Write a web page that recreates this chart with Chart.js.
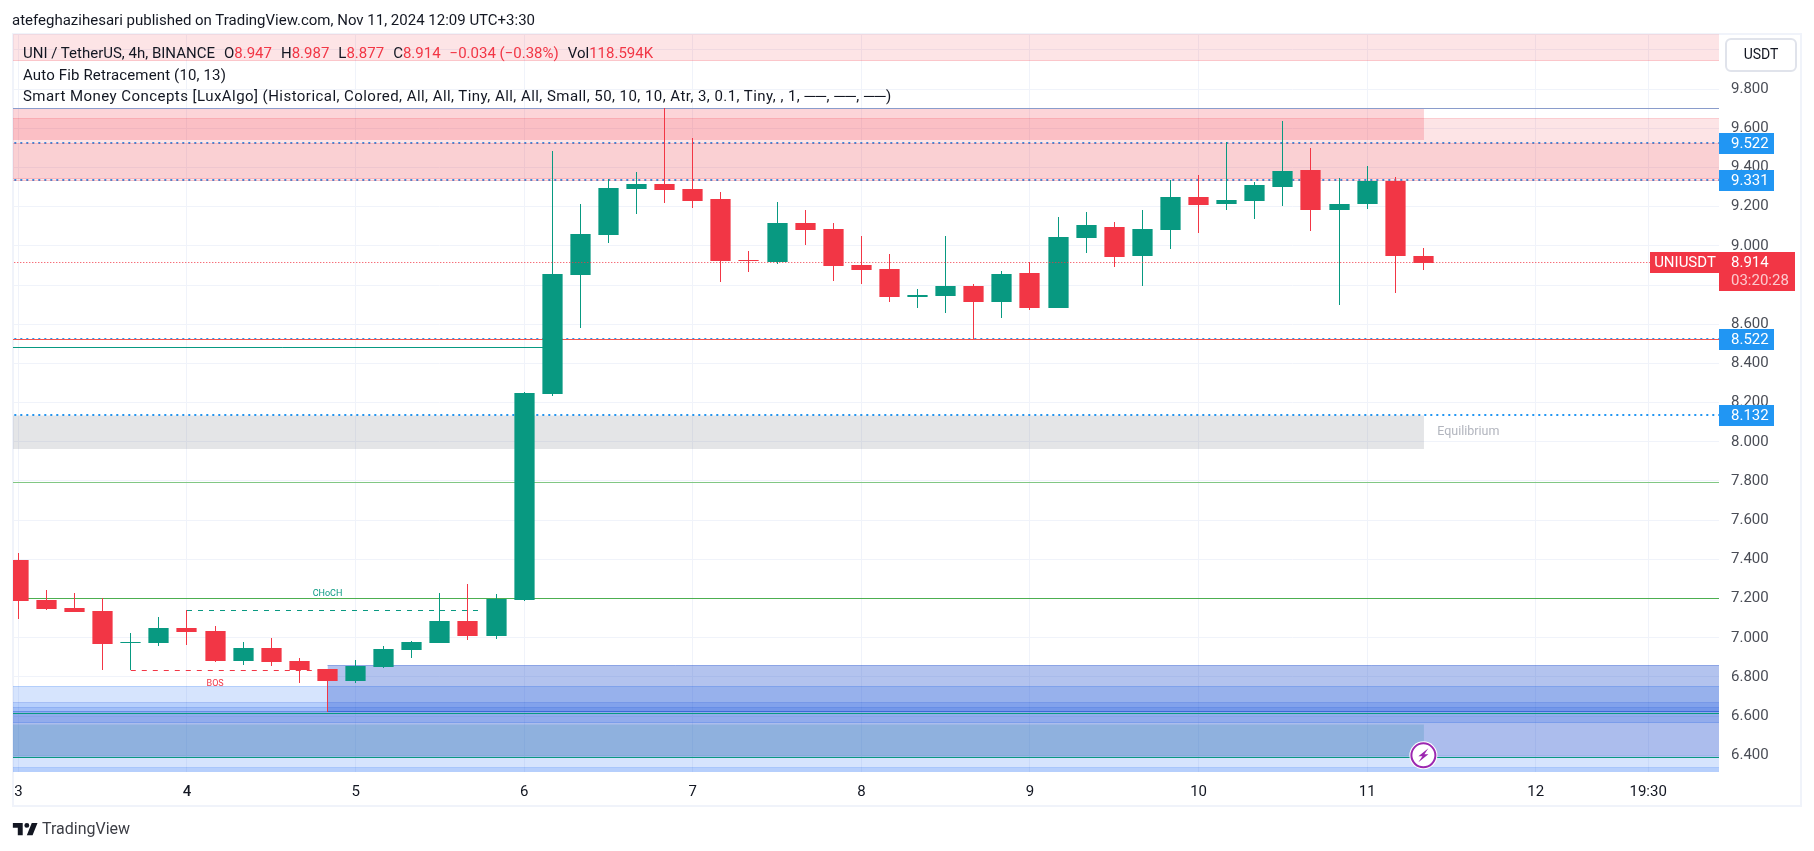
<!DOCTYPE html>
<html>
<head>
<meta charset="utf-8">
<title>UNI / TetherUS</title>
<script src="https://cdn.jsdelivr.net/npm/chart.js@4"></script>
<style>
    html, body { margin: 0; padding: 0; background: #fff; }
    body { width: 1814px; height: 851px; position: relative; overflow: hidden; font-family: Roboto, sans-serif; color: #131722; }
    canvas { position: absolute; left: 0; top: 0; }
    .txt { position: absolute; white-space: pre; font-size: 15px; line-height: 18px; }
    .red { color: #f23645; }
    .g { margin-left: 9px; }
    .logo { position: absolute; left: 11px; top: 818px; }
    .marca { position: absolute; left: 42px; top: 819px; font-size: 16px; line-height: 20px; color: #3c3e45; }
</style>
</head>
<body>
<canvas id="grafico" width="1814" height="851"></canvas>
<div class="txt" style="left:12px;top:11px">atefeghazihesari published on TradingView.com, Nov 11, 2024 12:09 UTC+3:30</div>
<div class="txt" style="left:23px;top:44px">UNI / TetherUS, 4h, BINANCE<span class="g">O</span><span class="red">8.947</span><span class="g">H</span><span class="red">8.987</span><span class="g">L</span><span class="red">8.877</span><span class="g">C</span><span class="red">8.914</span><span class="red g">−0.034 (−0.38%)</span><span class="g">Vol</span><span class="red">118.594K</span></div>
<div class="txt" style="left:23px;top:66px;letter-spacing:0.15px">Auto Fib Retracement (10, 13)</div>
<div class="txt" style="left:23px;top:87px;letter-spacing:0.45px">Smart Money Concepts [LuxAlgo] (Historical, Colored, All, All, Tiny, All, All, Small, 50, 10, 10, Atr, 3, 0.1, Tiny, , 1, ──, ──, ──)</div>
<svg class="logo" width="30" height="23" viewBox="0 0 36 28"><path fill="#131722" d="M14 6H2v6h6v9h6V6zm12 15h-7l6-15h7l-6 15zm-7-9a3 3 0 1 0 0-6 3 3 0 0 0 0 6z"/></svg>
<div class="marca">TradingView</div>
<script>
// Velas de 4h (preco)
const dataOpen = [7.397, 7.193, 7.152, 7.137, 6.975, 6.973, 7.050, 7.035, 6.882, 6.948, 6.882, 6.841, 6.780, 6.851, 6.938, 6.973, 7.086, 7.009, 7.193, 8.244,
    8.851, 9.055, 9.290, 9.315, 9.290, 9.239, 8.927, 8.917, 9.116, 9.086, 8.902, 8.882, 8.739, 8.744, 8.795, 8.713, 8.861, 8.683, 9.040, 9.096,
    8.948, 9.081, 9.249, 9.213, 9.229, 9.300, 9.387, 9.183, 9.213, 9.331, 8.947];
const dataHigh = [7.431, 7.244, 7.229, 7.201, 7.024, 7.106, 7.140, 7.060, 6.979, 6.999, 6.897, 6.841, 6.887, 6.958, 6.984, 7.229, 7.274, 7.223, 8.254, 9.484,
    9.213, 9.339, 9.377, 9.701, 9.550, 9.275, 8.974, 9.224, 9.183, 9.116, 9.050, 8.958, 8.780, 9.050, 8.805, 8.872, 8.916, 9.147, 9.173, 9.122,
    9.183, 9.336, 9.361, 9.530, 9.326, 9.637, 9.499, 9.346, 9.407, 9.351, 8.987];
const dataLow = [7.098, 7.142, 7.133, 6.837, 6.834, 6.960, 6.963, 6.877, 6.861, 6.856, 6.769, 6.623, 6.769, 6.846, 6.897, 6.973, 6.989, 6.994, 7.190, 8.234,
    8.581, 9.014, 9.162, 9.218, 9.193, 8.815, 8.866, 8.907, 9.004, 8.821, 8.805, 8.713, 8.683, 8.657, 8.525, 8.632, 8.673, 8.683, 8.963, 8.892,
    8.795, 8.984, 9.065, 9.183, 9.137, 9.203, 9.076, 8.698, 9.188, 8.759, 8.877];
const dataClose = [7.189, 7.149, 7.133, 6.970, 6.980, 7.050, 7.030, 6.882, 6.948, 6.877, 6.836, 6.780, 6.856, 6.943, 6.979, 7.086, 7.009, 7.200, 8.249, 8.856,
    9.060, 9.295, 9.315, 9.285, 9.229, 8.923, 8.924, 9.116, 9.081, 8.897, 8.877, 8.739, 8.749, 8.795, 8.713, 8.856, 8.683, 9.045, 9.106, 8.943,
    9.086, 9.249, 9.208, 9.234, 9.310, 9.382, 9.183, 9.213, 9.331, 8.948, 8.914];

// Eixos
const priceTicks = [6.4, 6.6, 6.8, 7.0, 7.2, 7.4, 7.6, 7.8, 8.0, 8.2, 8.4, 8.6, 8.8, 9.0, 9.2, 9.4, 9.6, 9.8, 10.0];
const dayTickIndex = [0, 6, 12, 18, 24, 30, 36, 42, 48, 54, 58];
const dayTickLabels = ['3', '4', '5', '6', '7', '8', '9', '10', '11', '12', '19:30'];

// Zonas (preco de cima, preco de baixo, vela inicial, vela final)
const zoneTop = [10.10, 9.652, 9.703, 9.524, 8.132, 6.860, 6.623, 6.749, 6.672, 6.645, 6.555, 6.393, 6.339];
const zoneBottom = [9.944, 9.342, 9.540, 9.331, 7.963, 6.623, 6.393, 6.567, 6.623, 6.623, 6.393, 6.300, 6.300];
const zoneStart = [-1, -1, -1, -1, -1, 11, -1, -1, -1, -1, -1, -1, -1];
const zoneEnd = [61, 61, 50.02, 61, 50.02, 61, 61, 61, 61, 61, 50.02, 61, 61];

// Linhas horizontais
const linePrice = [9.700, 8.523, 8.482, 7.793, 7.201, 6.611, 6.390, 7.140, 6.834];
const lineStart = [-1, -1, -1, -1, -1, -1, -1, 6, 4];
const lineEnd = [61, 61, 19, 61, 61, 61, 61, 16.5, 11];

// Niveis de Fibonacci e preco atual
const fibLevels = [9.522, 9.331, 8.522, 8.132];
const lastPrice = 8.914;
const lastPriceEnd = 58.07;
const countdown = '03:20:28';
const symbolName = 'UNIUSDT';

// Textos dentro do grafico
const noteTexts = ['CHoCH', 'BOS', 'Equilibrium'];
const noteIndex = [11, 7, 51.6];
const notePrice = [7.223, 6.764, 8.05];
const flashIndex = 50;
const flashPrice = 6.40;

const VERDE = '#089981';
const VERMELHO = '#f23645';
const AZUL = '#2196f3';

const zoneFills = ['rgba(242,54,69,0.134)', 'rgba(242,54,69,0.134)', 'rgba(242,54,69,0.21)', 'rgba(225,54,69,0.115)', 'rgba(120,123,134,0.2)',
    'rgba(24,72,204,0.33)', 'rgba(24,72,204,0.36)', 'rgba(49,121,245,0.2)', 'rgba(49,121,245,0.2)', 'rgba(24,72,204,0.14)',
    'rgba(8,153,129,0.18)', 'rgba(49,121,245,0.2)', 'rgba(49,121,245,0.2)'];
const zoneLines = ['rgba(242,54,69,0.2)', 'rgba(242,54,69,0.2)', 'rgba(242,54,69,0)', 'rgba(242,54,69,0.2)', 'rgba(120,123,134,0)',
    'rgba(24,72,204,0.4)', 'rgba(24,72,204,0)', 'rgba(49,121,245,0.3)', 'rgba(24,72,204,0.2)', 'rgba(24,72,204,0.2)',
    'rgba(8,153,129,0)', 'rgba(49,121,245,0)', 'rgba(49,121,245,0.2)'];
const lineColors = ['#8a9ccb', '#ef5350', VERDE, '#81c784', '#4caf50', VERDE, VERDE, VERDE, VERMELHO];
const lineDashes = [[], [], [], [], [], [], [], [5, 6], [5, 6]];

function linhaPreco(preco, inicio, fim, extra) {
    return Object.assign({
        type: 'line',
        data: [{ x: inicio, y: preco }, { x: fim, y: preco }],
        borderWidth: 1,
        pointRadius: 0,
        tension: 0,
        fill: false,
        order: 3
    }, extra);
}

function montarDatasets() {
    const lista = [];

    zoneTop.forEach((topo, i) => {
        lista.push(linhaPreco(topo, zoneStart[i], zoneEnd[i], {
            borderColor: zoneLines[i],
            backgroundColor: zoneFills[i],
            fill: { value: zoneBottom[i] },
            order: 5
        }));
        lista.push(linhaPreco(zoneBottom[i], zoneStart[i], zoneEnd[i], { borderColor: zoneLines[i], order: 5 }));
    });

    linePrice.forEach((preco, i) => {
        lista.push(linhaPreco(preco, lineStart[i], lineEnd[i], { borderColor: lineColors[i], borderDash: lineDashes[i] }));
    });

    // Os niveis ficam por baixo das zonas
    fibLevels.forEach(preco => {
        lista.push(linhaPreco(preco, -1, 61, { borderColor: AZUL, borderWidth: 2, borderDash: [2, 4], order: 6 }));
    });

    lista.push(linhaPreco(lastPrice, -1, lastPriceEnd, { borderColor: VERMELHO, borderDash: [1, 2], order: 0 }));

    const cores = dataOpen.map((o, i) => dataClose[i] >= o ? VERDE : VERMELHO);

    // Pavio
    lista.push({
        type: 'bar',
        data: dataLow.map((l, i) => ({ x: i, y: [l, dataHigh[i]] })),
        backgroundColor: cores,
        grouped: false,
        maxBarThickness: 1,
        inflateAmount: 0,
        order: 2
    });
    // Corpo
    lista.push({
        type: 'bar',
        data: dataOpen.map((o, i) => ({ x: i, y: [o, dataClose[i]] })),
        backgroundColor: cores,
        grouped: false,
        maxBarThickness: 21,
        inflateAmount: 0,
        order: 1
    });
    return lista;
}

// Alinha tudo ao pixel para as linhas ficarem nitidas
const alinharPixels = {
    id: 'alinharPixels',
    afterDatasetsUpdate(chart) {
        chart.getSortedVisibleDatasetMetas().forEach(meta => {
            const ds = chart.data.datasets[meta.index];
            meta.data.forEach(el => {
                if (meta.type === 'bar') {
                    el.x = Math.floor(el.x) + 0.5;
                    el.y = Math.round(el.y);
                    el.base = Math.round(el.base);
                    if (el.y === el.base) el.base = el.y + 1;
                } else {
                    el.y = ds.borderWidth === 2 ? Math.floor(el.y) : Math.floor(el.y) + 0.5;
                }
            });
        });
    }
};

const decoracao = {
    id: 'decoracao',
    beforeDraw(chart) {
        const ctx = chart.ctx;
        ctx.save();
        ctx.strokeStyle = '#f0f3fa';
        ctx.lineWidth = 2;
        ctx.strokeRect(13, 34, 1788, 772);
        ctx.restore();
    },
    afterDatasetsDraw(chart) {
        const { ctx, chartArea } = chart;
        const x = chart.scales.x;
        const y = chart.scales.y;
        const direita = chartArea.right;
        ctx.save();
        ctx.textBaseline = 'middle';

        // Textos do indicador
        ctx.textAlign = 'center';
        const coresNota = [VERDE, VERMELHO, '#b2b5be'];
        const fontesNota = ['9px Roboto', '9px Roboto', '12.5px Roboto'];
        noteTexts.forEach((t, i) => {
            ctx.fillStyle = coresNota[i];
            ctx.font = fontesNota[i];
            ctx.fillText(t, x.getPixelForValue(noteIndex[i]), y.getPixelForValue(notePrice[i]));
        });

        // Etiquetas azuis
        ctx.textAlign = 'left';
        ctx.font = '15px Roboto';
        fibLevels.forEach(preco => {
            const py = Math.floor(y.getPixelForValue(preco));
            ctx.fillStyle = AZUL;
            ctx.fillRect(direita, py - 10, 55, 21);
            ctx.fillStyle = '#fff';
            ctx.fillText(preco.toFixed(3), direita + 12, py + 1);
        });

        // Preco atual
        const py = Math.floor(y.getPixelForValue(lastPrice));
        ctx.fillStyle = VERMELHO;
        ctx.fillRect(direita, py - 10, 76, 39);
        ctx.fillRect(direita - 69, py - 10, 69, 21);
        ctx.fillStyle = '#fff';
        ctx.fillText(lastPrice.toFixed(3), direita + 12, py + 1);
        ctx.textAlign = 'center';
        ctx.fillText(symbolName, direita - 34, py + 1);
        ctx.textAlign = 'left';
        ctx.fillStyle = '#fcc9cd';
        ctx.fillText(countdown, direita + 12, py + 19);

        // Botao USDT
        ctx.fillStyle = '#fff';
        ctx.strokeStyle = '#e0e3eb';
        ctx.lineWidth = 2;
        ctx.beginPath();
        ctx.roundRect(1726, 39, 70, 32, 5);
        ctx.fill();
        ctx.stroke();
        ctx.fillStyle = '#131722';
        ctx.textAlign = 'center';
        ctx.font = '14px Roboto';
        ctx.fillText('USDT', 1761, 55);

        // Icone do raio
        const fx = x.getPixelForValue(flashIndex);
        const fy = y.getPixelForValue(flashPrice);
        ctx.fillStyle = '#fff';
        ctx.beginPath();
        ctx.arc(fx, fy, 14, 0, Math.PI * 2);
        ctx.fill();
        ctx.strokeStyle = '#9c27b0';
        ctx.lineWidth = 2;
        ctx.beginPath();
        ctx.arc(fx, fy, 12, 0, Math.PI * 2);
        ctx.stroke();
        ctx.fillStyle = '#9c27b0';
        ctx.beginPath();
        ctx.moveTo(fx + 5, fy - 7);
        ctx.lineTo(fx - 5, fy + 1);
        ctx.lineTo(fx - 1, fy + 1);
        ctx.lineTo(fx - 5, fy + 7);
        ctx.lineTo(fx + 5, fy - 1);
        ctx.lineTo(fx + 1, fy - 1);
        ctx.closePath();
        ctx.fill();
        ctx.restore();
    }
};

new Chart(document.getElementById('grafico'), {
    type: 'bar',
    data: { datasets: montarDatasets() },
    plugins: [alinharPixels, decoracao],
    options: {
        responsive: false,
        animation: false,
        events: [],
        layout: { padding: { left: 13, right: 13, top: 34, bottom: 45 } },
        plugins: {
            legend: { display: false },
            tooltip: { enabled: false }
        },
        scales: {
            x: {
                type: 'linear',
                offset: false,
                min: -0.192,
                max: 60.52,
                afterFit: scale => { scale.height = 34; },
                afterBuildTicks: scale => { scale.ticks = dayTickIndex.map(v => ({ value: v })); },
                grid: { color: '#f0f3fa', drawTicks: false, offset: false },
                border: { display: false },
                ticks: {
                    autoSkip: false,
                    maxRotation: 0,
                    padding: 11,
                    color: '#131722',
                    font: ctx => ({ family: 'Roboto', size: 15, weight: ctx.tick && ctx.tick.value === 6 ? '500' : '400' }),
                    callback: v => dayTickLabels[dayTickIndex.indexOf(v)]
                }
            },
            y: {
                position: 'right',
                min: 6.315,
                max: 10.081,
                afterFit: scale => { scale.width = 82; },
                afterBuildTicks: scale => { scale.ticks = priceTicks.map(v => ({ value: v })); },
                grid: { color: '#f0f3fa', drawTicks: false },
                border: { display: false },
                ticks: {
                    padding: 12,
                    color: '#4a4d56',
                    font: { family: 'Roboto', size: 15 },
                    callback: v => v.toFixed(3)
                }
            }
        }
    }
});
</script>
</body>
</html>
